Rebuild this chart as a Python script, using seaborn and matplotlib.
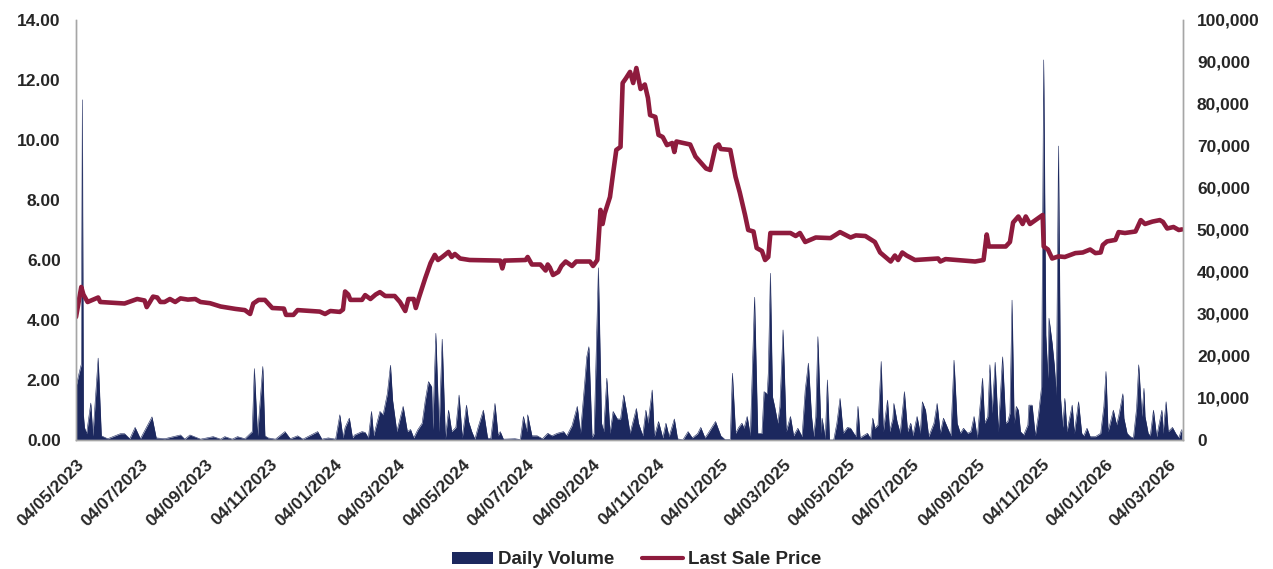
import numpy as np
import pandas as pd
import matplotlib
matplotlib.use("Agg")
import matplotlib.pyplot as plt
from matplotlib.patches import Patch
from matplotlib.lines import Line2D
from matplotlib.ticker import FuncFormatter
import seaborn as sns

# ---------------- data ----------------
start_date = "2023-05-04"
end_date = "2026-03-18"

# Last sale price: days since start_date, price
price_day = [0, 2, 5, 7, 11, 21, 23, 46, 58, 65, 67, 70, 73, 77, 80, 84, 89, 94, 99, 106,
             113, 118, 127, 137, 151, 160, 163, 165, 168, 173, 179, 186, 197, 199, 206, 210,
             222, 231, 236, 241, 250, 253, 255, 258, 260, 271, 274, 279, 284, 288, 293, 302,
             307, 312, 315, 320, 322, 325, 331, 336, 340, 343, 347, 353, 356, 359, 364, 373,
             402, 404, 406, 426, 428, 432, 440, 445, 447, 449, 452, 457, 460, 464, 470, 474,
             487, 490, 494, 497, 499, 501, 506, 509, 512, 516, 518, 521, 525, 528, 531, 535,
             539, 542, 544, 549, 552, 556, 560, 565, 567, 569, 582, 587, 592, 597, 601, 606,
             609, 611, 620, 625, 629, 634, 637, 642, 645, 650, 653, 656, 658, 677, 682, 686,
             691, 701, 715, 724, 734, 739, 748, 757, 762, 772, 776, 779, 783, 787, 795, 817,
             819, 824, 852, 860, 863, 865, 881, 885, 888, 893, 897, 900, 904, 914, 916, 917,
             921, 925, 931, 937, 947, 954, 961, 966, 971, 973, 977, 985, 988, 994, 1004, 1009,
             1013, 1020, 1027, 1030, 1034, 1040, 1045, 1048]
price_val = [4.10, 4.50, 5.10, 4.85, 4.60, 4.75, 4.60, 4.55, 4.70, 4.65, 4.43, 4.60, 4.78, 4.75,
             4.60, 4.60, 4.70, 4.60, 4.72, 4.68, 4.70, 4.60, 4.56, 4.45, 4.37, 4.33, 4.25, 4.20,
             4.55, 4.67, 4.67, 4.40, 4.38, 4.17, 4.17, 4.33, 4.30, 4.28, 4.20, 4.30, 4.27, 4.35,
             4.95, 4.85, 4.67, 4.67, 4.83, 4.70, 4.85, 4.93, 4.80, 4.80, 4.60, 4.30, 4.70, 4.70,
             4.40, 4.75, 5.40, 5.90, 6.17, 6.00, 6.10, 6.27, 6.10, 6.20, 6.05, 6.00, 5.98, 5.72,
             5.98, 6.00, 6.10, 5.85, 5.85, 5.65, 5.85, 5.75, 5.50, 5.60, 5.80, 5.95, 5.80, 5.95,
             5.95, 5.80, 6.00, 7.67, 7.20, 7.55, 8.10, 8.90, 9.67, 9.77, 11.90, 12.05, 12.27,
             11.90, 12.40, 11.70, 11.85, 11.40, 10.83, 10.77, 10.17, 10.10, 9.83, 9.90, 9.60,
             9.95, 9.85, 9.45, 9.25, 9.05, 9.00, 9.77, 9.85, 9.70, 9.67, 8.77, 8.25, 7.50, 7.00,
             6.95, 6.40, 6.30, 6.00, 6.10, 6.90, 6.90, 6.80, 6.90, 6.60, 6.75, 6.73, 6.93, 6.75,
             6.82, 6.80, 6.60, 6.25, 5.95, 6.15, 6.00, 6.25, 6.15, 6.00, 6.05, 5.95, 6.03, 5.95,
             6.00, 6.85, 6.45, 6.45, 6.60, 7.25, 7.45, 7.20, 7.45, 7.20, 7.45, 7.50, 6.45, 6.35,
             6.05, 6.12, 6.10, 6.23, 6.25, 6.35, 6.23, 6.25, 6.50, 6.62, 6.67, 6.93, 6.90, 6.95,
             7.33, 7.20, 7.28, 7.33, 7.27, 7.05, 7.10, 7.00, 7.02]

# Daily volume: days since start_date, shares
vol_day = [0, 3, 5, 6, 7, 8, 10, 14, 16, 21, 24, 30, 37, 42, 46, 51, 56, 61, 72, 76, 84, 99,
           103, 108, 118, 130, 137, 141, 148, 153, 160, 167, 169, 172, 177, 179, 182, 189,
           198, 203, 210, 215, 229, 233, 239, 246, 250, 253, 255, 259, 262, 264, 271, 274,
           277, 280, 282, 288, 291, 295, 298, 300, 304, 306, 310, 314, 317, 320, 324, 328,
           331, 334, 337, 338, 341, 344, 347, 350, 353, 356, 360, 363, 366, 370, 372, 375,
           378, 381, 386, 390, 393, 397, 400, 402, 405, 416, 421, 424, 427, 428, 432, 437,
           442, 447, 451, 456, 462, 465, 470, 475, 478, 482, 484, 486, 489, 491, 495, 498,
           500, 503, 506, 509, 513, 516, 519, 522, 525, 531, 533, 537, 540, 542, 546, 548,
           552, 556, 559, 562, 567, 570, 575, 580, 584, 589, 592, 596, 599, 606, 611, 615,
           620, 622, 625, 628, 631, 633, 636, 639, 643, 646, 650, 652, 655, 656, 658, 660,
           662, 665, 667, 670, 673, 677, 680, 684, 688, 691, 694, 697, 699, 701, 703, 706,
           707, 710, 712, 714, 718, 721, 724, 727, 731, 734, 737, 739, 741, 743, 746, 750,
           753, 755, 757, 760, 763, 765, 769, 771, 774, 775, 778, 781, 785, 788, 791, 793,
           797, 800, 802, 805, 808, 813, 816, 819, 822, 826, 829, 832, 835, 838, 841, 845,
           848, 851, 854, 859, 861, 864, 866, 868, 871, 874, 878, 881, 883, 885, 887, 889,
           891, 893, 895, 898, 902, 903, 906, 909, 912, 915, 917, 919, 921, 922, 925, 927,
           929, 931, 933, 935, 937, 939, 944, 946, 950, 953, 955, 958, 961, 966, 971, 974,
           976, 978, 981, 983, 986, 988, 992, 993, 996, 999, 1002, 1005, 1007, 1010, 1012,
           1013, 1016, 1018, 1021, 1024, 1029, 1030, 1033, 1035, 1039, 1042, 1045, 1047, 1048]
vol_val = [12700, 16000, 18000, 81000, 6000, 3000, 1500, 8800, 1000, 19500, 1000, 300, 1000,
           1500, 1500, 300, 3000, 300, 5500, 500, 300, 1200, 200, 1200, 200, 800, 200, 800,
           200, 800, 300, 2000, 17000, 1000, 17500, 1000, 500, 200, 2000, 300, 1000, 200,
           2000, 200, 500, 200, 6000, 500, 3000, 5200, 500, 1200, 2000, 1800, 500, 6800, 1000,
           6800, 6000, 11000, 17800, 9500, 2000, 4000, 8000, 2000, 2500, 500, 2500, 4000,
           9500, 13900, 12700, 2500, 25400, 2000, 24000, 300, 7100, 2000, 3000, 10700, 500,
           8300, 4400, 2000, 200, 3000, 7100, 500, 300, 8700, 1000, 2000, 200, 300, 100,
           5600, 2000, 6000, 1000, 1000, 300, 1600, 1000, 1600, 2000, 1000, 3400, 8000, 1600,
           13500, 19800, 22200, 500, 1600, 41000, 4000, 2000, 14700, 1600, 6800, 5000, 5000,
           10700, 6400, 1600, 7500, 4000, 1000, 7100, 4000, 11900, 800, 4400, 500, 4000, 800,
           5000, 300, 0, 2000, 500, 1500, 3000, 500, 1600, 4400, 1000, 100, 100, 15900, 1600,
           3000, 4000, 2800, 5600, 1000, 34000, 1600, 1600, 11500, 11000, 15900, 39700, 10300,
           8000, 4000, 8000, 26200, 2000, 5600, 1000, 2800, 800, 11900, 18300, 5600, 800, 5600,
           24600, 1600, 5200, 300, 14300, 0, 0, 4000, 9900, 1600, 3000, 2800, 1600, 800, 8000,
           500, 1000, 1600, 300, 5200, 2800, 3600, 18700, 2000, 9500, 2000, 5000, 8700, 4400,
           1600, 11500, 2000, 4000, 1000, 5600, 1600, 9100, 7100, 800, 4000, 8700, 1600, 5200,
           2800, 1000, 19000, 4000, 1600, 2800, 1600, 2000, 5600, 500, 14700, 4000, 5600,
           17900, 6400, 18500, 2000, 19800, 4000, 4400, 6400, 33300, 4000, 8000, 7100, 2000,
           1200, 3600, 8300, 8300, 1000, 6000, 12700, 90500, 25000, 14700, 29000, 23000, 17900,
           10700, 70000, 9900, 3000, 9900, 2000, 8300, 1600, 9100, 1600, 1000, 2800, 800, 800,
           1600, 8000, 16300, 2000, 5000, 7100, 3600, 5600, 11000, 5200, 1600, 800, 500, 7500,
           17900, 5600, 12300, 5600, 1600, 1000, 7100, 800, 7100, 1600, 9100, 2000, 3000, 1600,
           500, 2000, 2500]

price_ticks = [0, 2, 4, 6, 8, 10, 12, 14]
volume_ticks = [0, 10000, 20000, 30000, 40000, 50000, 60000, 70000, 80000, 90000, 100000]
tick_dates = ["2023-05-04", "2023-07-04", "2023-09-04", "2023-11-04", "2024-01-04",
              "2024-03-04", "2024-05-04", "2024-07-04", "2024-09-04", "2024-11-04",
              "2025-01-04", "2025-03-04", "2025-05-04", "2025-07-04", "2025-09-04",
              "2025-11-04", "2026-01-04", "2026-03-04"]

# ---------------- build frames ----------------
t0 = pd.Timestamp(start_date)
price_df = pd.DataFrame({"Date": t0 + pd.to_timedelta(price_day, unit="D"), "Price": price_val})
vol_df = pd.DataFrame({"Date": t0 + pd.to_timedelta(vol_day, unit="D"), "Volume": vol_val})

NAVY = "#1C285E"
MAROON = "#8E1B3D"
GRAY = "#A6A6A6"
TXT = "#262626"
FS = 12.5

sns.set_theme(style="white")
plt.rcParams["font.family"] = ["Liberation Sans", "DejaVu Sans"]
plt.rcParams["font.weight"] = "bold"

fig = plt.figure(figsize=(12.73, 5.69), dpi=100)
ax = fig.add_axes([76 / 1273, 1 - 440 / 569, (1183 - 76) / 1273, 420 / 569])
ax2 = ax.twinx()

# volume (right axis), drawn behind price
ax2.fill_between(vol_df["Date"], 0, vol_df["Volume"], color=NAVY, linewidth=0)
sns.lineplot(data=vol_df, x="Date", y="Volume", ax=ax2, color=NAVY, linewidth=0.4)

# price (left axis), on top
sns.lineplot(data=price_df, x="Date", y="Price", ax=ax, color=MAROON, linewidth=3.3)
ax.set_zorder(ax2.get_zorder() + 1)
ax.patch.set_visible(False)

ax.set_xlim(t0, pd.Timestamp(end_date))
ax.set_ylim(0, 14)
ax2.set_ylim(0, 100000)
ax.set_yticks(price_ticks)
ax2.set_yticks(volume_ticks)
ax.yaxis.set_major_formatter(FuncFormatter(lambda v, p: f"{v:.2f}"))
ax2.yaxis.set_major_formatter(FuncFormatter(lambda v, p: f"{int(v):,}"))

xt = pd.to_datetime(tick_dates)
ax.set_xticks(xt)
ax.set_xticklabels([d.strftime("%d/%m/%Y") for d in xt], rotation=45, ha="right",
                   va="top", rotation_mode="anchor", fontsize=FS, fontweight="bold", color=TXT)
for a in (ax, ax2):
    a.set_xlabel("")
    a.set_ylabel("")
    a.tick_params(axis="both", length=0, labelsize=FS, colors=TXT)
    a.grid(False)
    a.spines["top"].set_visible(False)
    for s in ("left", "right", "bottom"):
        a.spines[s].set_color(GRAY)
        a.spines[s].set_linewidth(1.0)
for lab in ax.get_yticklabels() + ax2.get_yticklabels():
    lab.set_fontweight("bold")
ax.tick_params(axis="x", pad=12)
ax.tick_params(axis="y", pad=11)
ax2.tick_params(axis="y", pad=10)

handles = [Patch(facecolor=NAVY, edgecolor="none", label="Daily Volume"),
           Line2D([0], [0], color=MAROON, linewidth=3, label="Last Sale Price")]
fig.legend(handles=handles, loc="center", bbox_to_anchor=(0.5, 1 - 560 / 569), ncol=2,
           frameon=False, handlelength=2.2, handleheight=0.6, columnspacing=1.45,
           handletextpad=0.25, prop={"weight": "bold", "size": 13.5})
for t in fig.legends[0].get_texts():
    t.set_color(TXT)

fig.savefig("out.png", dpi=100)
